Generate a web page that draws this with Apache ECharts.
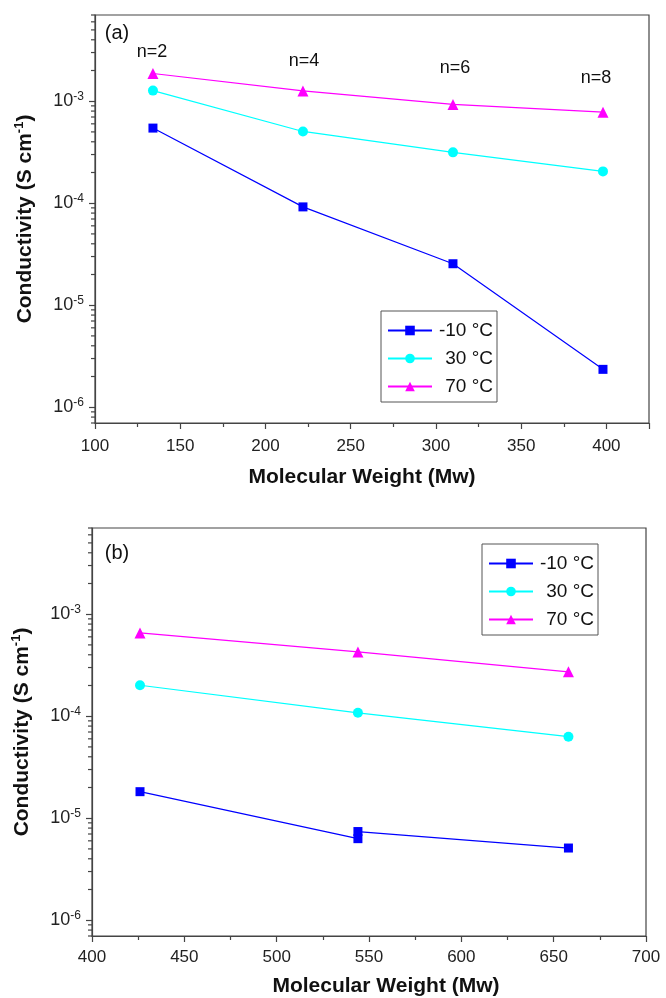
<!DOCTYPE html>
<html>
<head>
<meta charset="utf-8">
<title>Conductivity vs Molecular Weight</title>
<script src="https://cdn.jsdelivr.net/npm/echarts@6/dist/echarts.min.js"></script>
<style>
html, body { margin: 0; padding: 0; background: #fff; }
#main { width: 666px; height: 998px; }
</style>
</head>
<body>
<div id="main"></div>
<script>
// panel (a): n = 2, 4, 6, 8
var mwA = [134, 222, 310, 398];
var condA_m10 = [5.45e-4, 9.2e-5, 2.55e-5, 2.35e-6];
var condA_30 = [1.27e-3, 5.05e-4, 3.15e-4, 2.05e-4];
var condA_70 = [1.87e-3, 1.26e-3, 9.3e-4, 7.8e-4];
var nLabels = ['n=2', 'n=4', 'n=6', 'n=8'];

// panel (b)
var mwB_m10 = [426, 544, 544, 658];
var condB_m10 = [1.82e-5, 6.3e-6, 7.4e-6, 5.1e-6];
var mwB = [426, 544, 658];
var condB_30 = [2.01e-4, 1.08e-4, 6.3e-5];
var condB_70 = [6.55e-4, 4.27e-4, 2.72e-4];

var seriesNames = ['-10 °C', '30 °C', '70 °C'];
var colors = ['#0000ff', '#00ffff', '#ff00ff'];
var symbols = ['rect', 'circle', 'triangle'];
var symbolSizes = [9, 10, 11];

var font = 'Liberation Sans, Arial, sans-serif';
var axisColor = '#444';

function pairs(xs, ys) {
	return xs.map(function (x, i) { return [x, ys[i]]; });
}

function lineSeries(k, grid, data) {
	return {
		name: seriesNames[k],
		type: 'line',
		xAxisIndex: grid,
		yAxisIndex: grid,
		data: data,
		color: colors[k],
		symbol: symbols[k],
		symbolSize: symbolSizes[k],
		lineStyle: { width: 1.2, color: colors[k] },
		itemStyle: { color: colors[k] },
		animation: false
	};
}

function xAxis(grid, min, max, showMax) {
	return {
		type: 'value', gridIndex: grid, min: min, max: max, interval: 50,
		name: 'Molecular Weight (Mw)', nameLocation: 'middle', nameGap: grid === 0 ? 44 : 40,
		nameTextStyle: {
			fontFamily: font, fontSize: 21, fontWeight: 'bold', color: '#111',
			padding: grid === 0 ? [0, 20, 0, 0] : [0, 0, 0, 34]
		},
		axisLine: { lineStyle: { color: axisColor, width: 1.2 } },
		axisTick: { length: 6, lineStyle: { color: axisColor, width: 1.2 } },
		minorTick: { show: true, splitNumber: 2, length: 4, lineStyle: { color: axisColor, width: 1.2 } },
		axisLabel: { fontFamily: font, fontSize: 17, color: '#222', margin: grid === 0 ? 15 : 13, showMaxLabel: showMax },
		splitLine: { show: false }
	};
}

function yAxis(grid) {
	return {
		type: 'log', gridIndex: grid, min: 7e-7, max: 7e-3, logBase: 10,
		name: 'Conductivity (S cm{sup|-1})', nameLocation: 'middle', nameGap: 58, nameRotate: 90,
		nameTextStyle: {
			fontFamily: font, fontSize: 21, fontWeight: 'bold', color: '#111', lineHeight: 24,
			rich: { sup: { fontFamily: font, fontSize: 13, fontWeight: 'bold', verticalAlign: 'top', color: '#111' } }
		},
		axisLine: { lineStyle: { color: axisColor, width: 1.2 } },
		axisTick: { length: 6, lineStyle: { color: axisColor, width: 1.2 } },
		axisLabel: {
			margin: 11, showMinLabel: false, showMaxLabel: false,
			formatter: function (v) {
				return '10{sup|' + Math.round(Math.log10(v)) + '}';
			},
			fontFamily: font, fontSize: 18, color: '#222', lineHeight: 22,
			rich: { sup: { fontFamily: font, fontSize: 12, color: '#222', verticalAlign: 'top' } }
		},
		splitLine: { show: false }
	};
}

function legend(left, top) {
	return {
		data: seriesNames, orient: 'vertical', left: left, top: top,
		itemWidth: 44, itemHeight: 12, itemGap: 9,
		padding: [10, 4, 6, 6],
		borderColor: '#555', borderWidth: 1, backgroundColor: '#fff',
		formatter: function (name) { return '{t|' + name + '}'; },
		textStyle: {
			fontFamily: font, fontSize: 19, color: '#111',
			rich: { t: { fontFamily: font, fontSize: 19, width: 56, align: 'right', color: '#111' } }
		}
	};
}

var chart = echarts.init(document.getElementById('main'));

var option = {
	backgroundColor: '#fff',
	animation: false,
	grid: [
		{ left: 95, top: 15, right: 17, bottom: 575, show: true, borderColor: axisColor, borderWidth: 1.2 },
		{ left: 92, top: 528, right: 20, bottom: 61, show: true, borderColor: axisColor, borderWidth: 1.2 }
	],
	xAxis: [xAxis(0, 100, 425, false), xAxis(1, 400, 700, true)],
	yAxis: [yAxis(0), yAxis(1)],
	legend: [legend(381, 311), legend(482, 544)],
	series: [
		lineSeries(0, 0, pairs(mwA, condA_m10)),
		lineSeries(1, 0, pairs(mwA, condA_30)),
		lineSeries(2, 0, pairs(mwA, condA_70)),
		lineSeries(0, 1, pairs(mwB_m10, condB_m10)),
		lineSeries(1, 1, pairs(mwB, condB_30)),
		lineSeries(2, 1, pairs(mwB, condB_70))
	]
};
chart.setOption(option);

// log minor ticks (2..9 per decade) and panel annotations
var graphics = [];
[0, 1].forEach(function (g) {
	var x0 = chart.convertToPixel({ xAxisIndex: g }, option.xAxis[g].min);
	for (var d = -7; d <= -3; d++) {
		for (var m = 2; m <= 9; m++) {
			var v = m * Math.pow(10, d);
			if (v < 7e-7 || v > 7e-3) continue;
			var y = chart.convertToPixel({ yAxisIndex: g }, v);
			graphics.push({
				type: 'line', silent: true,
				shape: { x1: x0 - 4, y1: y, x2: x0, y2: y },
				style: { stroke: axisColor, lineWidth: 1.2 }
			});
		}
	}
});

function note(text, x, y, size) {
	graphics.push({
		type: 'text', x: x, y: y, silent: true,
		style: { text: text, fontFamily: font, fontSize: size, fill: '#111', align: 'center', verticalAlign: 'middle' }
	});
}
note('(a)', 117, 33, 20);
note('(b)', 117, 553, 20);
var nPos = [[152, 52], [304, 61], [455, 68], [596, 78]];
nLabels.forEach(function (t, i) { note(t, nPos[i][0], nPos[i][1], 18); });

chart.setOption({ graphic: graphics });
</script>
</body>
</html>
